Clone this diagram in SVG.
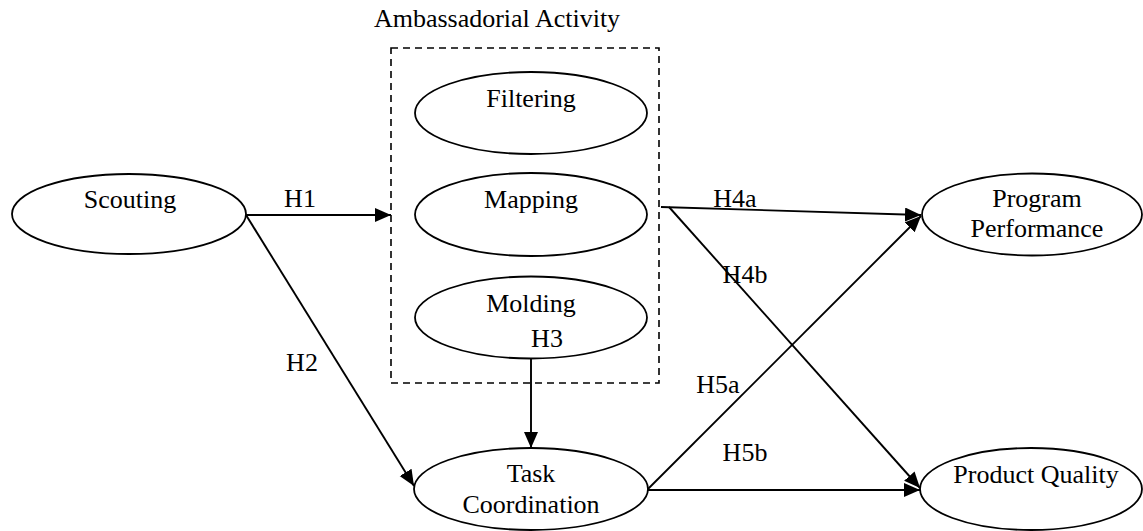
<svg xmlns="http://www.w3.org/2000/svg" width="1143" height="531" viewBox="0 0 1143 531">
<style>
.node ellipse{fill:#fff;stroke:#000;stroke-width:1.8}
text{font-family:"Liberation Serif","Times New Roman",serif;font-size:26px;fill:#000;text-anchor:middle}
.edge{stroke:#000;stroke-width:1.9;fill:none}
.group{fill:none;stroke:#000;stroke-width:1.6;stroke-dasharray:7 5}
</style>
<defs>
<marker id="ah" markerUnits="userSpaceOnUse" markerWidth="17" markerHeight="15" refX="16" refY="7" orient="auto">
<path d="M0,0 L16,7 L0,14 z" fill="#000"/>
</marker>
</defs>
<rect id="frame" x="0" y="0" width="1143" height="531" fill="#fff"/>
<g id="ambassadorial">
<rect class="group" x="391" y="48" width="268" height="335"/>
<text x="497" y="27">Ambassadorial Activity</text>
</g>
<g id="scouting" class="node"><ellipse cx="129" cy="214" rx="117" ry="40"/><text x="130" y="208">Scouting</text></g>
<g id="filtering" class="node"><ellipse cx="531" cy="113" rx="116" ry="41"/><text x="531" y="107">Filtering</text></g>
<g id="mapping" class="node"><ellipse cx="531" cy="214.5" rx="116" ry="41.5"/><text x="531" y="208">Mapping</text></g>
<g id="molding" class="node"><ellipse cx="531" cy="317.5" rx="116" ry="41"/><text x="531" y="312">Molding</text></g>
<g id="task" class="node"><ellipse cx="531" cy="489" rx="117" ry="41"/><text x="531" y="482">Task</text><text x="531" y="513">Coordination</text></g>
<g id="program" class="node"><ellipse cx="1032" cy="214.5" rx="110" ry="41"/><text x="1037" y="207">Program</text><text x="1037" y="237">Performance</text></g>
<g id="quality" class="node"><ellipse cx="1031" cy="489" rx="111" ry="41"/><text x="1036" y="483">Product Quality</text></g>
<g id="connectors">
<line class="edge" x1="246" y1="215" x2="391" y2="215" marker-end="url(#ah)"/>
<line class="edge" x1="246" y1="215" x2="414" y2="486" marker-end="url(#ah)"/>
<line class="edge" x1="531" y1="359" x2="531" y2="448" marker-end="url(#ah)"/>
<line class="edge" x1="661" y1="207" x2="921" y2="215" marker-end="url(#ah)"/>
<line class="edge" x1="669" y1="207" x2="920" y2="488" marker-end="url(#ah)"/>
<line class="edge" x1="648" y1="489" x2="921" y2="216" marker-end="url(#ah)"/>
<line class="edge" x1="648" y1="490" x2="920" y2="490" marker-end="url(#ah)"/>
</g>
<g id="labels">
<text x="300" y="207">H1</text>
<text x="302" y="371">H2</text>
<text x="547" y="347">H3</text>
<text x="735" y="207">H4a</text>
<text x="745" y="283">H4b</text>
<text x="718" y="393">H5a</text>
<text x="745" y="461">H5b</text>
</g>
</svg>
